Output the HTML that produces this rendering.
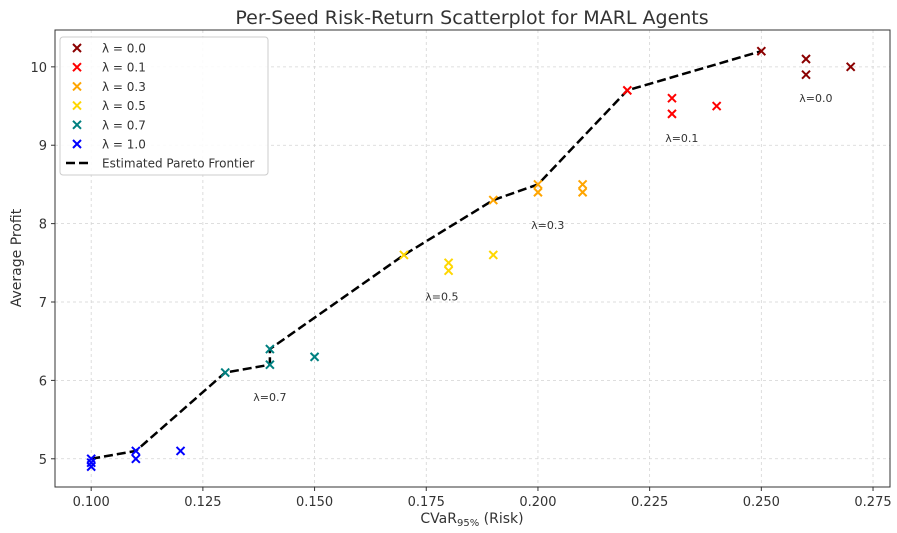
<!DOCTYPE html>
<html><head><meta charset="utf-8"><style>
body{margin:0;background:#fff}
svg text{font-family:"DejaVu Sans","Liberation Sans",sans-serif;fill:#333}
</style></head><body>
<svg id="chart" width="897" height="528" xmlns="http://www.w3.org/2000/svg"></svg>
<script>
const xTicks=[0.100,0.125,0.150,0.175,0.200,0.225,0.250,0.275];
const yTicks=[5,6,7,8,9,10];
const groupNames=["λ = 0.0","λ = 0.1","λ = 0.3","λ = 0.5","λ = 0.7","λ = 1.0"];
const groupColors=["#8b0000","#ff0000","#ffa500","#ffd700","#008080","#0000ff"];
const risk00=[0.25,0.26,0.26,0.27], profit00=[10.2,10.1,9.9,10.0];
const risk01=[0.22,0.23,0.23,0.24], profit01=[9.7,9.6,9.4,9.5];
const risk03=[0.19,0.20,0.20,0.21,0.21], profit03=[8.3,8.5,8.4,8.5,8.4];
const risk05=[0.17,0.18,0.18,0.19], profit05=[7.6,7.5,7.4,7.6];
const risk07=[0.13,0.14,0.14,0.15], profit07=[6.1,6.4,6.2,6.3];
const risk10=[0.10,0.10,0.10,0.11,0.11,0.12], profit10=[5.0,4.95,4.9,5.1,5.0,5.1];
const frontierRisk=[0.10,0.11,0.13,0.14,0.14,0.17,0.19,0.20,0.22,0.25];
const frontierProfit=[5.0,5.1,6.1,6.2,6.4,7.6,8.3,8.5,9.7,10.2];
const labelText=["λ=0.0","λ=0.1","λ=0.3","λ=0.5","λ=0.7"];
const labelRisk=[0.2622,0.2322,0.2022,0.1785,0.1400];
const labelProfit=[9.6,9.09,7.98,7.07,5.79];

const svg=document.getElementById('chart');const NS="http://www.w3.org/2000/svg";
const L=55,R=890,T=30,B=487,x0=0.0919,x1=0.2788,y0=4.64,y1=10.47;
const X=v=>L+(v-x0)/(x1-x0)*(R-L), Y=v=>B-(v-y0)/(y1-y0)*(B-T);
function el(t,a,txt){const e=document.createElementNS(NS,t);for(const k in a)e.setAttribute(k,a[k]);if(txt!==undefined)e.textContent=txt;svg.appendChild(e);return e;}
xTicks.forEach(v=>{const g=el('line',{x1:X(v),x2:X(v),y1:T,y2:B,stroke:'#d4d4d4','stroke-dasharray':'3,3','stroke-width':0.8});

el('line',{x1:X(v),x2:X(v),y1:B,y2:B+4,stroke:'#333'});
const t=el('text',{x:X(v),y:B+19,'text-anchor':'middle','font-size':13},v.toFixed(3));
});
yTicks.forEach(v=>{const g=el('line',{x1:L,x2:R,y1:Y(v),y2:Y(v),stroke:'#d4d4d4','stroke-dasharray':'3,3','stroke-width':0.8});

el('line',{x1:L-4,x2:L,y1:Y(v),y2:Y(v),stroke:'#333'});
const t=el('text',{x:L-8,y:Y(v)+5,'text-anchor':'end','font-size':13},String(v));
});
const ax=el('rect',{x:L,y:T,width:R-L,height:B-T,fill:'none',stroke:'#333','stroke-width':1});

const fr=el('polyline',{points:frontierRisk.map((r,i)=>X(r)+','+Y(frontierProfit[i])).join(' '),fill:'none',stroke:'#000','stroke-width':2.5,'stroke-dasharray':'9,4'});

function cross(cx,cy,c,s){const p=el('path',{d:`M${cx-s},${cy-s}L${cx+s},${cy+s}M${cx-s},${cy+s}L${cx+s},${cy-s}`,stroke:c,'stroke-width':2,fill:'none'});return p;}
const groups=[[risk00,profit00],[risk01,profit01],[risk03,profit03],[risk05,profit05],[risk07,profit07],[risk10,profit10]];
groups.forEach((g,gi)=>g[0].forEach((r,i)=>{const p=cross(X(r),Y(g[1][i]),groupColors[gi],4);
}));
labelText.forEach((s,i)=>{const t=el('text',{x:X(labelRisk[i]),y:Y(labelProfit[i])+4,'text-anchor':'middle','font-size':11},s);
});
const ti=el('text',{x:472,y:24,'text-anchor':'middle','font-size':19},'Per-Seed Risk-Return Scatterplot for MARL Agents');

const xl=el('text',{x:472,y:523,'text-anchor':'middle','font-size':14});xl.innerHTML='CVaR<tspan font-size="10" dy="3">95%</tspan><tspan dy="-3"> (Risk)</tspan>';

const yl=el('text',{x:21,y:258,'text-anchor':'middle','font-size':14,transform:'rotate(-90 21 258)'},'Average Profit');

const lg=el('rect',{x:60,y:37,width:208,height:138,fill:'#fff','fill-opacity':0.85,stroke:'#ccc',rx:3});

groupNames.forEach((n,i)=>{const y=48+i*19.2;const p=cross(77,y,groupColors[i],4);

const t=el('text',{x:102,y:y+4.5,'font-size':12},n);});
const ll=el('line',{x1:66,x2:92,y1:163,y2:163,stroke:'#000','stroke-width':2.5,'stroke-dasharray':'9,4'});

const lt=el('text',{x:102,y:167.5,'font-size':12},'Estimated Pareto Frontier');

</script>
</body></html>
